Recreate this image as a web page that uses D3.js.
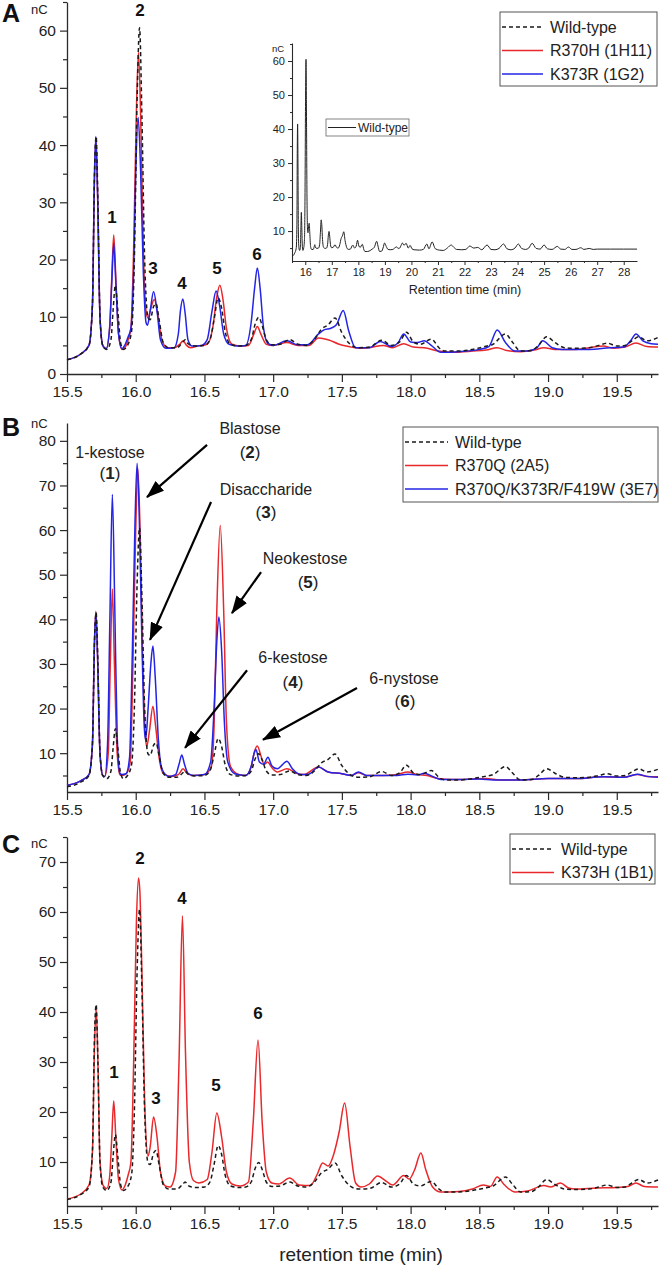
<!DOCTYPE html>
<html><head><meta charset="utf-8">
<script src="https://cdn.jsdelivr.net/npm/d3@7"></script>
<style>body{margin:0;background:#fff;} svg{display:block;font-family:Arial,"Liberation Sans",sans-serif;}</style>
</head><body><svg id="c" width="661" height="1265"></svg>
<script>
// ---------- DATA (retention time min, signal nC) ----------
const wildType = [[15.50,2.5],[15.60,3.5],[15.66,5.0],[15.685,12],[15.70,35],[15.712,41.5],[15.725,30],[15.74,10],[15.76,5.0],[15.79,4.3],[15.82,6],[15.835,11],[15.852,15.5],[15.87,11],[15.89,5.5],[15.91,4.3],[15.94,5],[15.97,7.5],[15.99,20],[16.01,48],[16.028,60.5],[16.045,45],[16.065,20],[16.09,9.8],[16.105,9.5],[16.13,11.8],[16.148,12.3],[16.17,9.5],[16.20,5.5],[16.24,4.6],[16.30,4.6],[16.34,5.5],[16.36,6.0],[16.38,5.3],[16.43,4.9],[16.50,5.0],[16.54,6],[16.57,9.5],[16.60,13.3],[16.625,11.5],[16.65,7.5],[16.69,5.2],[16.75,4.9],[16.80,5.0],[16.84,6],[16.87,8.8],[16.895,9.9],[16.92,8.5],[16.95,6],[16.99,5.1],[17.05,5.2],[17.12,6.0],[17.18,5.2],[17.24,5.0],[17.30,6],[17.35,7.8],[17.40,8.6],[17.45,9.8],[17.50,7.2],[17.56,5.2],[17.62,4.6],[17.70,4.7],[17.79,5.9],[17.86,5.0],[17.92,5.6],[17.97,7.3],[18.02,5.6],[18.07,5.2],[18.15,6.1],[18.21,4.5],[18.25,4.0],[18.35,4.0],[18.45,4.3],[18.54,4.8],[18.60,5.2],[18.69,7.0],[18.74,5.6],[18.80,4.0],[18.88,4.1],[18.93,5],[18.99,6.5],[19.05,5.5],[19.12,4.6],[19.20,4.5],[19.30,4.6],[19.37,5.0],[19.43,5.4],[19.50,4.9],[19.56,5.0],[19.61,5.8],[19.66,6.5],[19.72,5.8],[19.80,6.4]];
const wildTypeTail = [[19.88,5.0],[19.95,5.8],[20.02,4.8],[20.10,4.5],[20.30,4.4],[20.45,4.6],[20.58,6.2],[20.66,4.8],[20.78,6.8],[20.90,4.8],[21.05,4.4],[21.20,4.3],[21.35,5.0],[21.50,5.9],[21.60,5.2],[21.70,4.6],[21.90,4.5],[22.05,4.6],[22.20,5.6],[22.35,5.0],[22.50,5.2],[22.65,4.5],[22.85,5.9],[23.00,4.6],[23.15,4.5],[23.30,4.9],[23.47,6.2],[23.60,4.8],[23.75,4.5],[23.90,5.0],[24.03,6.2],[24.15,4.9],[24.30,4.6],[24.42,5.0],[24.55,6.4],[24.70,4.9],[24.85,4.7],[25.00,5.9],[25.12,4.8],[25.30,4.6],[25.50,5.5],[25.62,4.7],[25.78,4.6],[25.92,5.3],[26.05,4.6],[26.20,4.6],[26.38,5.1],[26.50,4.6],[26.70,4.9],[26.85,4.6],[27.00,4.7],[27.50,4.7],[28.00,4.7],[28.50,4.7]];
const r370h = [[15.50,2.5],[15.60,3.5],[15.66,5.0],[15.685,12],[15.70,34],[15.71,41.2],[15.722,32],[15.74,10],[15.76,5.0],[15.785,4.4],[15.81,8],[15.826,17],[15.84,24.3],[15.855,17],[15.875,7],[15.90,4.3],[15.92,4.6],[15.945,6.0],[15.965,8],[15.985,22],[16.005,46],[16.02,56.2],[16.035,46],[16.055,22],[16.075,11],[16.09,9.8],[16.11,11.5],[16.135,13.0],[16.16,10.5],[16.19,6],[16.23,4.6],[16.28,4.6],[16.32,5.2],[16.345,5.8],[16.37,5.0],[16.40,4.6],[16.45,4.9],[16.52,5.2],[16.56,8],[16.59,13.5],[16.612,15.5],[16.635,13],[16.66,8],[16.70,5.2],[16.76,4.9],[16.82,5.0],[16.86,7],[16.885,8.3],[16.91,7],[16.95,5.2],[17.00,5.0],[17.10,5.5],[17.18,5.0],[17.26,5.0],[17.33,6.3],[17.40,6.0],[17.48,5.2],[17.55,4.8],[17.62,4.5],[17.70,4.6],[17.80,5.0],[17.87,4.6],[17.95,5.3],[18.02,4.7],[18.10,4.6],[18.20,4.0],[18.30,3.8],[18.45,4.0],[18.55,4.2],[18.63,4.6],[18.70,4.1],[18.80,3.9],[18.90,4.2],[18.97,4.6],[19.05,4.3],[19.20,4.3],[19.40,4.9],[19.48,4.5],[19.56,4.7],[19.64,5.4],[19.72,4.8],[19.80,4.7]];
const k373r = [[15.50,2.5],[15.60,3.5],[15.66,5.0],[15.685,12],[15.70,35],[15.71,41.5],[15.722,32],[15.74,10],[15.76,5],[15.785,4.4],[15.81,8],[15.826,16],[15.84,22.8],[15.855,16],[15.875,7],[15.90,4.4],[15.92,5.0],[15.945,6.5],[15.965,8],[15.985,18],[16.00,35],[16.018,44.8],[16.035,36],[16.055,18],[16.075,9],[16.085,8.5],[16.105,11],[16.13,14.4],[16.155,11],[16.18,6],[16.22,4.5],[16.28,4.6],[16.31,7],[16.325,11],[16.343,13.1],[16.36,10.5],[16.38,6],[16.41,4.9],[16.48,5.0],[16.52,6],[16.555,11],[16.585,14.5],[16.61,12],[16.64,7],[16.68,5.2],[16.74,4.9],[16.80,5.0],[16.84,9],[16.865,15],[16.885,18.5],[16.905,15],[16.93,8],[16.96,5.4],[17.00,5.0],[17.10,5.8],[17.18,5.1],[17.25,5.1],[17.33,7.0],[17.37,7.7],[17.42,8.0],[17.46,8.6],[17.51,11.1],[17.55,7.5],[17.60,4.6],[17.70,4.6],[17.78,5.7],[17.86,4.8],[17.91,5.5],[17.95,7.0],[18.00,5.6],[18.05,5.5],[18.10,5.8],[18.15,5.0],[18.22,3.8],[18.35,3.9],[18.50,4.3],[18.57,4.8],[18.63,7.7],[18.69,5.5],[18.76,4.0],[18.85,4.0],[18.92,4.6],[18.96,5.8],[19.03,4.6],[19.10,4.3],[19.30,4.3],[19.45,4.6],[19.55,4.7],[19.60,5.8],[19.64,7.0],[19.69,5.8],[19.75,5.3],[19.80,5.2]];
const r370q = [[15.50,2.8],[15.60,3.8],[15.66,5.2],[15.685,12],[15.70,35],[15.71,41.8],[15.722,32],[15.74,10],[15.76,5],[15.775,4.8],[15.80,10],[15.815,30],[15.83,46.8],[15.845,30],[15.865,10],[15.885,5.2],[15.90,5.0],[15.93,5.4],[15.96,8],[15.98,30],[16.00,60],[16.015,73.8],[16.03,62],[16.05,32],[16.07,14],[16.08,11.5],[16.10,15],[16.125,20.5],[16.145,16],[16.17,9],[16.20,5.5],[16.26,4.8],[16.31,5.2],[16.345,6.5],[16.37,5.6],[16.41,5.0],[16.50,5.2],[16.55,7],[16.57,16],[16.59,42],[16.615,61],[16.64,42],[16.66,17],[16.69,7],[16.75,5.2],[16.80,5.0],[16.84,7],[16.865,10.5],[16.885,11.6],[16.91,9.5],[16.935,7.5],[16.96,8.0],[16.99,6.8],[17.03,5.8],[17.10,6.5],[17.17,5.5],[17.22,5.2],[17.33,6.9],[17.40,5.8],[17.50,5.4],[17.57,5.0],[17.62,5.6],[17.68,5.0],[17.80,5.0],[17.90,5.2],[17.98,5.8],[18.05,5.2],[18.12,5.0],[18.20,4.3],[18.30,4.1],[18.45,4.2],[18.55,4.3],[18.65,4.0],[18.80,4.0],[19.00,4.3],[19.20,4.3],[19.40,4.7],[19.55,4.6],[19.65,5.2],[19.72,4.8],[19.80,4.7]];
const tripleMut = [[15.50,2.8],[15.60,3.8],[15.66,5.2],[15.685,12],[15.70,35],[15.71,41.5],[15.722,32],[15.74,10],[15.76,5],[15.775,4.8],[15.795,12],[15.812,40],[15.83,68],[15.848,42],[15.865,14],[15.885,5.5],[15.90,5.2],[15.93,5.4],[15.955,9],[15.975,32],[15.995,62],[16.01,75],[16.025,64],[16.045,35],[16.062,16],[16.072,13],[16.09,20],[16.11,30],[16.125,34],[16.142,27],[16.165,13],[16.19,6.5],[16.24,4.8],[16.29,5.2],[16.315,7.5],[16.335,9.6],[16.355,7.5],[16.38,5.5],[16.42,5.0],[16.50,5.2],[16.545,8],[16.57,20],[16.59,35],[16.605,40.5],[16.625,33],[16.645,17],[16.67,8],[16.72,5.4],[16.80,5.0],[16.84,7],[16.862,10],[16.875,10.8],[16.90,8.0],[16.93,7.5],[16.962,9.1],[16.99,7.2],[17.03,6.5],[17.07,7.5],[17.10,8.2],[17.14,6.5],[17.20,5.2],[17.26,5.3],[17.33,6.9],[17.40,5.8],[17.50,5.4],[17.57,5.0],[17.62,5.8],[17.68,5.0],[17.80,5.0],[17.90,5.0],[17.98,5.3],[18.05,5.1],[18.10,5.5],[18.16,4.8],[18.22,4.1],[18.35,4.1],[18.50,4.2],[18.60,4.0],[18.80,4.0],[19.00,4.3],[19.20,4.3],[19.40,4.7],[19.55,4.6],[19.65,5.3],[19.72,4.8],[19.80,4.6]];
const k373h = [[15.50,2.6],[15.60,3.6],[15.66,5.4],[15.685,12],[15.70,33],[15.712,40.8],[15.725,30],[15.74,10],[15.765,5.2],[15.79,4.7],[15.81,7],[15.826,15],[15.84,22.2],[15.855,15],[15.875,6.5],[15.90,4.4],[15.925,5.5],[15.945,7.4],[15.965,10],[15.985,30],[16.005,58],[16.02,66.8],[16.03,64.2],[16.045,48],[16.065,22],[16.09,11.2],[16.105,13],[16.13,19],[16.155,15],[16.18,8],[16.215,5.2],[16.25,5.0],[16.29,8],[16.315,30],[16.34,59.2],[16.362,32],[16.39,10],[16.42,6.3],[16.46,5.8],[16.52,6.5],[16.555,12],[16.59,19.8],[16.625,15],[16.66,8],[16.70,5.6],[16.76,5.2],[16.82,6],[16.855,18],[16.89,34.4],[16.92,18],[16.95,8],[16.99,5.8],[17.04,5.6],[17.12,6.8],[17.19,5.4],[17.27,5.3],[17.32,7.5],[17.36,9.8],[17.40,9.2],[17.44,11.5],[17.48,16],[17.52,21.8],[17.56,13],[17.60,5.8],[17.64,5.0],[17.70,5.6],[17.76,7.2],[17.82,6.2],[17.87,5.4],[17.95,7.3],[17.99,6.6],[18.03,8.5],[18.075,11.8],[18.11,8.5],[18.16,5.0],[18.22,4.0],[18.35,4.1],[18.45,4.6],[18.53,5.4],[18.58,5.1],[18.63,7.0],[18.68,5.5],[18.76,4.0],[18.85,4.2],[18.97,5.3],[19.02,5.0],[19.09,5.8],[19.15,4.8],[19.20,4.6],[19.35,4.8],[19.50,4.9],[19.58,5.1],[19.64,5.8],[19.70,5.1],[19.80,5.0]];

const xTicks = [15.5,16.0,16.5,17.0,17.5,18.0,18.5,19.0,19.5];
const xMinorTicks = [15.75,16.25,16.75,17.25,17.75,18.25,18.75,19.25,19.75];
const yTicksA = [0,10,20,30,40,50,60];
const yTicksB = [10,20,30,40,50,60,70,80];
const yTicksC = [10,20,30,40,50,60,70];
const insetXTicks = [16,17,18,19,20,21,22,23,24,25,26,27,28];
const insetYTicks = [10,20,30,40,50,60];

const legendA = ["Wild-type","R370H (1H11)","K373R (1G2)"];
const legendB = ["Wild-type","R370Q (2A5)","R370Q/K373R/F419W (3E7)"];
const legendC = ["Wild-type","K373H (1B1)"];

const peakLabelsA = [["2",16.031,63.6],["1",15.827,27.4],["3",16.126,18.5],["4",16.337,15.9],["5",16.591,18.5],["6",16.882,21.0]];
const peakLabelsC = [["2",16.031,70.8],["4",16.337,62.8],["6",16.89,39.8],["1",15.842,28.0],["3",16.148,22.8],["5",16.584,25.4]];
// B annotations: name, number, name pos, number pos, arrow from, arrow tip (data units)
const annotB = [
  {name:"1-kestose", num:"1", nt:15.813, nv:77.5, bt:15.813, bv:72.8, arrow:null},
  {name:"Blastose", num:"2", nt:16.832, nv:82.9, bt:16.832, bv:77.5, arrow:[16.519,79.1,16.082,67.4]},
  {name:"Disaccharide", num:"3", nt:16.948, nv:69.2, bt:16.948, bv:64.05, arrow:[16.548,66.3,16.104,35.4]},
  {name:"Neokestose", num:"5", nt:17.232, nv:53.7, bt:17.254, bv:48.4, arrow:[16.912,50.6,16.70,41.4]},
  {name:"6-kestose", num:"4", nt:17.144, nv:31.5, bt:17.144, bv:25.95, arrow:[16.81,28.6,16.359,11.2]},
  {name:"6-nystose", num:"6", nt:17.952, nv:26.85, bt:17.959, bv:21.7, arrow:[17.61,24.6,16.926,13.0]}
];

// ---------- DRAW ----------
const RED = "#e8282b", BLUE = "#2424e6", WT = "#1a1a1a", AX = "#2a2a2a";
const svg = d3.select("#c");
const defs = svg.append("defs");
defs.append("marker").attr("id","ah").attr("viewBox","0 0 18 13").attr("refX",17).attr("refY",6.5)
  .attr("markerWidth",18).attr("markerHeight",13).attr("markerUnits","userSpaceOnUse").attr("orient","auto")
  .append("path").attr("d","M0,0 L18,6.5 L0,13 Z").attr("fill","#000");

const x = d3.scaleLinear().domain([15.5,19.8]).range([67,658]);

function panel(cfg){
  const y = d3.scaleLinear().domain(cfg.yDomain).range([cfg.bottom, cfg.top]);
  const g = svg.append("g");
  const xa = d3.axisBottom(x).tickValues(xTicks).tickFormat(d3.format(".1f")).tickSize(8).tickSizeOuter(0).tickPadding(4);
  const xm = d3.axisBottom(x).tickValues(xMinorTicks).tickFormat("").tickSize(4).tickSizeOuter(0);
  g.append("g").attr("transform",`translate(0,${cfg.bottom})`).call(xa);
  g.append("g").attr("transform",`translate(0,${cfg.bottom})`).call(xm).select(".domain").remove();
  const ya = d3.axisLeft(y).tickValues(cfg.yTicks).tickFormat(d3.format("d")).tickSize(7).tickSizeOuter(0).tickPadding(4);
  const minors = cfg.yTicks.map(v=>v-5).filter(v=>v>cfg.yDomain[0]);
  minors.push(cfg.yTicks[cfg.yTicks.length-1]+5);
  const ym = d3.axisLeft(y).tickValues(minors.filter(v=>v<=cfg.yDomain[1])).tickFormat("").tickSize(4).tickSizeOuter(0);
  g.append("g").attr("transform",`translate(67,0)`).call(ya);
  g.append("g").attr("transform",`translate(67,0)`).call(ym).select(".domain").remove();
  g.selectAll(".domain").attr("stroke",AX).attr("stroke-width",1.3);
  g.selectAll(".tick line").attr("stroke",AX).attr("stroke-width",1.2);
  g.selectAll(".tick text").attr("font-size",15.5).attr("fill","#222").attr("font-family","Arial, 'Liberation Sans', sans-serif");
  g.append("text").attr("x",2).attr("y",cfg.letterY).text(cfg.letter).attr("font-size",25).attr("font-weight","bold").attr("fill","#111");
  g.append("text").attr("x",31).attr("y",cfg.ncY).text("nC").attr("font-size",13).attr("fill","#222");
  const line = d3.line().x(d=>x(d[0])).y(d=>y(d[1])).curve(d3.curveMonotoneX);
  cfg.series.forEach(s=>{
    g.append("path").datum(s.data).attr("d",line).attr("fill","none").attr("stroke",s.color)
      .attr("stroke-width",1.5).attr("stroke-dasharray",s.dash?"4,3":null).attr("stroke-linejoin","round");
  });
  const L = cfg.legend;
  const lg = g.append("g");
  lg.append("rect").attr("x",L.x).attr("y",L.y).attr("width",L.w).attr("height",L.h).attr("fill","#fff").attr("stroke","#555").attr("stroke-width",1);
  L.items.forEach((it,i)=>{
    const yy = L.y + 15 + i*23.5;
    lg.append("line").attr("x1",L.x+2).attr("x2",L.x+L.lw).attr("y1",yy).attr("y2",yy)
      .attr("stroke",it.color).attr("stroke-width",1.4).attr("stroke-dasharray",it.dash?"4,3":null);
    lg.append("text").attr("x",L.x+L.lw+7).attr("y",yy).attr("dy","0.35em").text(it.label).attr("font-size",16).attr("fill","#222");
  });
  return {g,y};
}

// Panel A
const A = panel({top:2,bottom:374,yDomain:[0,65],yTicks:yTicksA,letter:"A",letterY:22,ncY:14,
  series:[{data:r370h,color:RED},{data:k373r,color:BLUE},{data:wildType,color:WT,dash:true}],
  legend:{x:500,y:12,w:157,h:74,lw:43,items:[{label:legendA[0],color:WT,dash:true},{label:legendA[1],color:RED},{label:legendA[2],color:BLUE}]}
});
peakLabelsA.forEach(p=>A.g.append("text").attr("x",x(p[1])).attr("y",A.y(p[2])).attr("dy","0.35em")
  .attr("text-anchor","middle").attr("font-weight","bold").attr("font-size",17).attr("fill","#111").text(p[0]));

// Inset in A
const xi = d3.scaleLinear().domain([15.5,28.5]).range([292,637]);
const yi = d3.scaleLinear().domain([1.2,65.3]).range([261,43]);
const ig = svg.append("g");
const ixa = d3.axisBottom(xi).tickValues(insetXTicks).tickFormat(d3.format("d")).tickSize(4).tickSizeOuter(0).tickPadding(3);
ig.append("g").attr("transform","translate(0,261)").call(ixa);
ig.append("g").attr("transform","translate(0,261)").call(d3.axisBottom(xi).tickValues(insetXTicks.map(v=>v-0.5)).tickFormat("").tickSize(2).tickSizeOuter(0)).select(".domain").remove();
const iya = d3.axisLeft(yi).tickValues(insetYTicks).tickFormat(d3.format("d")).tickSize(4).tickSizeOuter(0).tickPadding(3);
ig.append("g").attr("transform","translate(292,0)").call(iya);
ig.append("g").attr("transform","translate(292,0)").call(d3.axisLeft(yi).tickValues([5,15,25,35,45,55,65]).tickFormat("").tickSize(2).tickSizeOuter(0)).select(".domain").remove();
ig.selectAll(".domain").attr("stroke",AX).attr("stroke-width",1.1);
ig.selectAll(".tick line").attr("stroke",AX);
ig.selectAll(".tick text").attr("font-size",11).attr("fill","#222");
ig.append("text").attr("x",272).attr("y",52).text("nC").attr("font-size",9.5).attr("fill","#222");
ig.append("text").attr("x",465).attr("y",294).attr("text-anchor","middle").text("Retention time (min)").attr("font-size",12.5).attr("fill","#222");
const iline = d3.line().x(d=>xi(d[0])).y(d=>yi(d[1])).curve(d3.curveMonotoneX);
ig.append("path").datum(wildType.concat(wildTypeTail)).attr("d",iline).attr("fill","none").attr("stroke","#222").attr("stroke-width",1);
ig.append("rect").attr("x",326).attr("y",119).attr("width",83).attr("height",17).attr("fill","#fff").attr("stroke","#666").attr("stroke-width",0.8);
ig.append("line").attr("x1",328).attr("x2",356).attr("y1",127.5).attr("y2",127.5).attr("stroke","#222").attr("stroke-width",1);
ig.append("text").attr("x",358).attr("y",127.5).attr("dy","0.35em").text("Wild-type").attr("font-size",12).attr("fill","#222");

// Panel B
const B = panel({top:423,bottom:792,yDomain:[1.3,84],yTicks:yTicksB,letter:"B",letterY:436,ncY:428,
  series:[{data:r370q,color:RED},{data:tripleMut,color:BLUE},{data:wildType,color:WT,dash:true}],
  legend:{x:403,y:427,w:255,h:75,lw:45,items:[{label:legendB[0],color:WT,dash:true},{label:legendB[1],color:RED},{label:legendB[2],color:BLUE}]}
});
annotB.forEach(a=>{
  B.g.append("text").attr("x",x(a.nt)).attr("y",B.y(a.nv)).attr("dy","0.35em").attr("text-anchor","middle")
    .attr("font-size",16).attr("fill","#222").text(a.name);
  const t = B.g.append("text").attr("x",x(a.bt)).attr("y",B.y(a.bv)).attr("dy","0.35em").attr("text-anchor","middle").attr("font-size",17).attr("fill","#222");
  t.append("tspan").text("(");
  t.append("tspan").attr("font-weight","bold").text(a.num);
  t.append("tspan").text(")");
  if(a.arrow){
    B.g.append("line").attr("x1",x(a.arrow[0])).attr("y1",B.y(a.arrow[1])).attr("x2",x(a.arrow[2])).attr("y2",B.y(a.arrow[3]))
      .attr("stroke","#000").attr("stroke-width",2.2).attr("marker-end","url(#ah)");
  }
});

// Panel C
const C = panel({top:837,bottom:1206,yDomain:[1.2,75],yTicks:yTicksC,letter:"C",letterY:853,ncY:848,
  series:[{data:k373h,color:RED},{data:wildType,color:WT,dash:true}],
  legend:{x:510,y:834,w:145,h:50,lw:44,items:[{label:legendC[0],color:WT,dash:true},{label:legendC[1],color:RED}]}
});
peakLabelsC.forEach(p=>C.g.append("text").attr("x",x(p[1])).attr("y",C.y(p[2])).attr("dy","0.35em")
  .attr("text-anchor","middle").attr("font-weight","bold").attr("font-size",17).attr("fill","#111").text(p[0]));
svg.append("text").attr("x",361).attr("y",1261).attr("text-anchor","middle").attr("font-size",19).attr("fill","#222").text("retention time (min)");
</script></body></html>
